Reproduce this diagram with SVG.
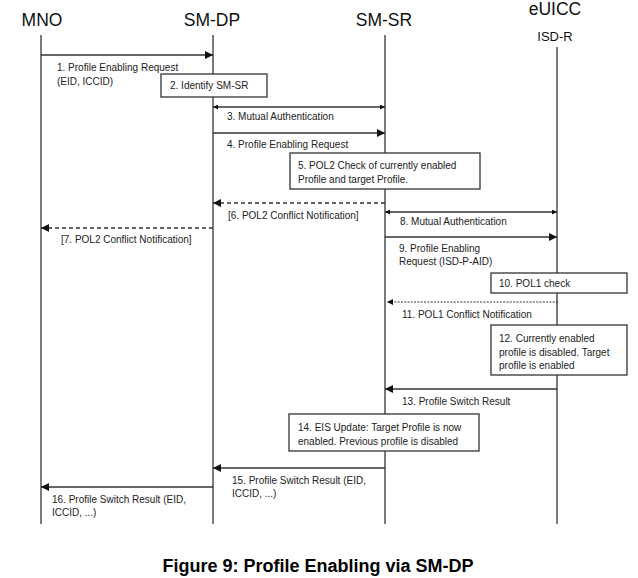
<svg xmlns="http://www.w3.org/2000/svg" width="638" height="578" viewBox="0 0 638 578">
<style>
.hd{font-family:"Liberation Sans",Arial,sans-serif;font-size:17.5px;fill:#111;text-anchor:middle}
.sub{font-family:"Liberation Sans",Arial,sans-serif;font-size:13px;fill:#111;text-anchor:middle}
.lb{font-family:"Liberation Sans",Arial,sans-serif;font-size:10px;fill:#222}
.ll{stroke:#333;stroke-width:1.3;fill:none}
.ar{stroke:#333;stroke-width:1.3;fill:none}
.da{stroke:#333;stroke-width:1.3;fill:none;stroke-dasharray:4 3}
.df{stroke:#333;stroke-width:1.1;fill:none;stroke-dasharray:2 1.3}
.bx{fill:#fff;stroke:#333;stroke-width:1.3}
.title{font-family:"Liberation Sans",Arial,sans-serif;font-size:18px;font-weight:bold;fill:#000;text-anchor:middle}
</style>
<defs>
<marker id="ah" viewBox="0 0 10 10" refX="10" refY="5" markerWidth="8" markerHeight="8" markerUnits="userSpaceOnUse" orient="auto"><path d="M0,0 L10,5 L0,10 Z" fill="#111"/></marker>
<marker id="as" viewBox="0 0 10 10" refX="10" refY="5" markerWidth="6" markerHeight="5" markerUnits="userSpaceOnUse" orient="auto-start-reverse"><path d="M0,0 L10,5 L0,10 Z" fill="#111"/></marker>
<marker id="am" viewBox="0 0 10 10" refX="10" refY="5" markerWidth="7" markerHeight="6" markerUnits="userSpaceOnUse" orient="auto"><path d="M0,0 L10,5 L0,10 Z" fill="#111"/></marker>
</defs>
<rect width="638" height="578" fill="#fff"/>

<g id="lifelines">
<g id="mno"><text class="hd" x="42" y="26">MNO</text><line class="ll" x1="41" y1="35" x2="41" y2="524"/></g>
<g id="smdp"><text class="hd" x="212" y="26">SM-DP</text><line class="ll" x1="213" y1="35" x2="213" y2="524"/></g>
<g id="smsr"><text class="hd" x="384" y="26">SM-SR</text><line class="ll" x1="385" y1="35" x2="385" y2="524"/></g>
<g id="euicc"><text class="hd" x="555" y="15">eUICC</text><text class="sub" x="555" y="41">ISD-R</text><line class="ll" x1="557" y1="47" x2="557" y2="524"/></g>
</g>

<g id="connectors">
<line class="ar" x1="41" y1="55" x2="213" y2="55" marker-end="url(#ah)"/>
<line class="ar" x1="213" y1="107" x2="385" y2="107" marker-start="url(#as)" marker-end="url(#as)"/>
<line class="ar" x1="213" y1="133" x2="385" y2="133" marker-end="url(#ah)"/>
<line class="da" x1="385" y1="203" x2="213" y2="203" marker-end="url(#ah)"/>
<line class="ar" x1="385" y1="212" x2="557" y2="212" marker-start="url(#as)" marker-end="url(#as)"/>
<line class="da" x1="213" y1="228" x2="41" y2="228" marker-end="url(#ah)"/>
<line class="ar" x1="385" y1="237" x2="557" y2="237" marker-end="url(#ah)"/>
<line class="df" x1="558" y1="302" x2="387" y2="302" marker-end="url(#am)"/>
<line class="ar" x1="557" y1="389" x2="385" y2="389" marker-end="url(#ah)"/>
<line class="ar" x1="385" y1="468" x2="213" y2="468" marker-end="url(#ah)"/>
<line class="ar" x1="213" y1="487" x2="41" y2="487" marker-end="url(#ah)"/>
</g>

<g id="labels">
<text class="lb" x="57" y="71">1. Profile Enabling Request</text>
<text class="lb" x="57" y="85">(EID, ICCID)</text>
<text class="lb" x="227" y="120">3. Mutual Authentication</text>
<text class="lb" x="227" y="148">4. Profile Enabling Request</text>
<text class="lb" x="228" y="219">[6. POL2 Conflict Notification]</text>
<text class="lb" x="61" y="243">[7. POL2 Conflict Notification]</text>
<text class="lb" x="400" y="225">8. Mutual Authentication</text>
<text class="lb" x="399" y="252">9. Profile Enabling</text>
<text class="lb" x="399" y="265">Request (ISD-P-AID)</text>
<text class="lb" x="402" y="318">11. POL1 Conflict Notification</text>
<text class="lb" x="402" y="405">13. Profile Switch Result</text>
<text class="lb" x="232" y="484">15.  Profile Switch Result (EID,</text>
<text class="lb" x="232" y="497">ICCID, ...)</text>
<text class="lb" x="52" y="503">16.  Profile Switch Result (EID,</text>
<text class="lb" x="52" y="516">ICCID, ...)</text>
</g>

<g id="step2"><rect class="bx" x="161" y="74" width="106" height="23"/><text class="lb" x="170" y="89">2. Identify SM-SR</text></g>
<g id="step5"><rect class="bx" x="290" y="153" width="190" height="36"/><text class="lb" x="298" y="169">5. POL2 Check of currently enabled</text><text class="lb" x="298" y="183">Profile and target Profile.</text></g>
<g id="step10"><rect class="bx" x="491" y="273" width="136" height="20"/><text class="lb" x="499" y="287">10. POL1 check</text></g>
<g id="step12"><rect class="bx" x="491" y="325" width="136" height="50"/><text class="lb" x="499" y="342">12. Currently enabled</text><text class="lb" x="499" y="356">profile is disabled. Target</text><text class="lb" x="499" y="369">profile is enabled</text></g>
<g id="step14"><rect class="bx" x="289" y="414" width="190" height="37"/><text class="lb" x="298" y="431">14. EIS Update: Target Profile is now</text><text class="lb" x="298" y="445">enabled. Previous profile is disabled</text></g>

<text class="title" x="318" y="572">Figure 9: Profile Enabling via SM-DP</text>
</svg>
